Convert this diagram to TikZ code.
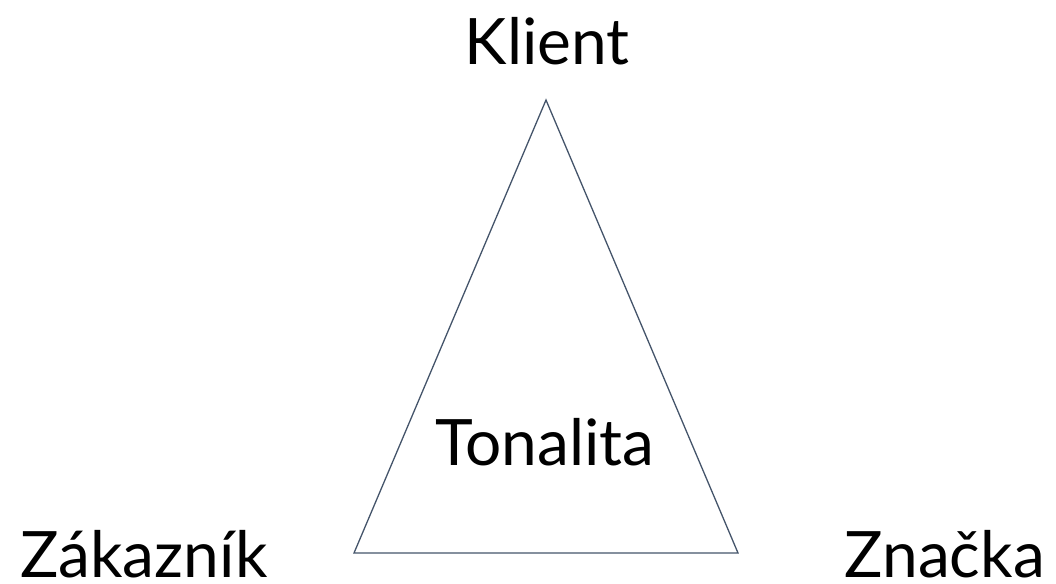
\documentclass[tikz,border=0pt]{standalone}
\usepackage{fontspec}
\setmainfont{Lato}
\definecolor{edge}{HTML}{44546A}
\begin{document}
\begin{tikzpicture}[x=1pt,y=-1pt,
  lbl/.style={anchor=base,inner sep=0pt,text depth=0pt,font=\fontsize{64}{64}\selectfont,text=black},
  side/.style={draw=edge,line width=1.3pt,line join=miter}]
\useasboundingbox (0,0) rectangle (1056,583);
\coordinate (top) at (546,100);
\coordinate (bl) at (354,553);
\coordinate (br) at (738,553);
\draw[side] (top) -- (bl) -- (br) -- cycle;
\node[lbl] (klient) at (547,65) {Klient};
\node[lbl] (tonalita) at (545,465) {Tonalita};
\node[lbl,anchor=base west] (zakaznik) at (20,577) {Zákazník};
\node[lbl,anchor=base east] (znacka) at (1045,577) {Značka};
\end{tikzpicture}
\end{document}
